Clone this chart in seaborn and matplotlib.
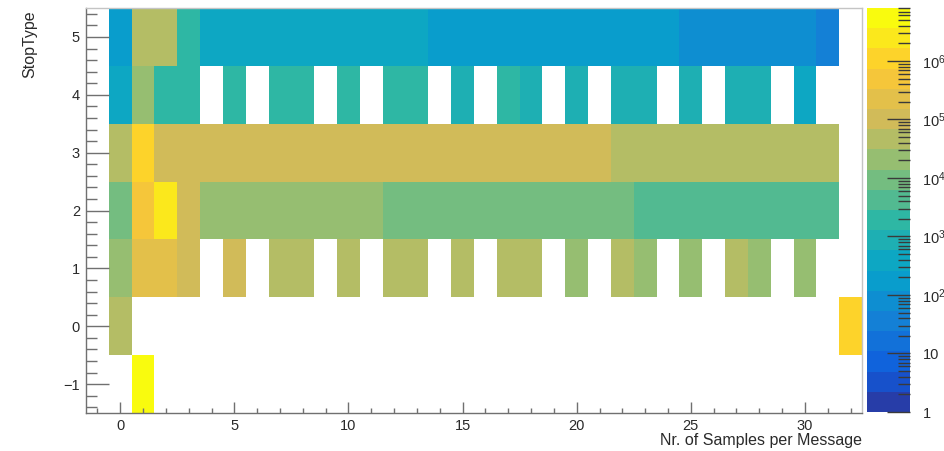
import numpy as np
import pandas as pd
import matplotlib
matplotlib.use("Agg")
import matplotlib.pyplot as plt
import seaborn as sns
from matplotlib.colors import LinearSegmentedColormap, ListedColormap, LogNorm
from matplotlib.ticker import FixedLocator, FixedFormatter, LogLocator, NullFormatter

# ---------------- data (counts per bin, 0 = empty) ----------------
x_bins = list(range(-1, 33))          # Nr. of Samples per Message
stop_types = [5, 4, 3, 2, 1, 0, -1]   # StopType (rows, top to bottom)

counts_5 = [0, 175, 46000, 46000, 1900,
            390, 390, 390, 390, 390, 390, 390, 390, 390, 390,
            175, 175, 175, 175, 175, 175, 175, 175, 175, 175, 175,
            80, 80, 80, 80, 80, 80, 36, 0]
counts_4 = [0, 390, 21000, 1900, 1900, 0, 1900, 0, 1900, 1900, 0, 1900, 0,
            1900, 1900, 0, 860, 0, 1900, 860, 0, 860, 0, 860, 860, 0, 860,
            0, 860, 860, 0, 390, 0, 0]
counts_3 = [0, 46000, 1100000,
            100000, 100000, 100000, 100000, 100000, 100000, 100000, 100000,
            100000, 100000, 100000, 100000, 100000, 100000, 100000, 100000,
            100000, 100000, 100000, 100000,
            46000, 46000, 46000, 46000, 46000, 46000, 46000, 46000, 46000,
            46000, 0]
counts_2 = [0, 9400, 500000, 2400000, 100000,
            21000, 21000, 21000, 21000, 21000, 21000, 21000, 21000,
            9400, 9400, 9400, 9400, 9400, 9400, 9400, 9400, 9400, 9400, 9400,
            4200, 4200, 4200, 4200, 4200, 4200, 4200, 4200, 4200, 0]
counts_1 = [0, 21000, 225000, 225000, 100000, 0, 100000, 0, 46000, 46000, 0,
            46000, 0, 46000, 46000, 0, 46000, 0, 46000, 46000, 0, 21000, 0,
            46000, 21000, 0, 21000, 0, 46000, 21000, 0, 21000, 0, 0]
counts_0 = [0, 46000] + [0] * 31 + [1100000]
counts_m1 = [0, 0, 8050000] + [0] * 31

x_major = [0, 5, 10, 15, 20, 25, 30]
y_major = [-1, 0, 1, 2, 3, 4, 5]
z_major = [1, 10, 100, 1000, 10000, 100000, 1000000]
z_labels = ["1", "10", r"$\mathregular{10^{2}}$", r"$\mathregular{10^{3}}$",
            r"$\mathregular{10^{4}}$", r"$\mathregular{10^{5}}$",
            r"$\mathregular{10^{6}}$"]

df = pd.DataFrame([counts_5, counts_4, counts_3, counts_2, counts_1,
                   counts_0, counts_m1], index=stop_types, columns=x_bins,
                  dtype=float)

# ---------------- style ----------------
sns.set_style("white")
plt.rcParams["font.family"] = ["Liberation Sans", "DejaVu Sans"]
plt.rcParams["axes.axisbelow"] = False
text_c = "#2a2a2a"
axis_c = "#707070"

# ROOT kBird palette, 20 contour levels
r = [0.2082, 0.0592, 0.0780, 0.0232, 0.1802, 0.5301, 0.8186, 0.9956, 0.9764]
g = [0.1664, 0.3599, 0.5041, 0.6419, 0.7178, 0.7492, 0.7328, 0.7862, 0.9832]
b = [0.5293, 0.8684, 0.8385, 0.7914, 0.6425, 0.4662, 0.3499, 0.1968, 0.0539]
stops = np.linspace(0, 1, 9)
bird = LinearSegmentedColormap.from_list("bird", list(zip(stops, zip(r, g, b))), N=255)
n_levels = 20
cmap = ListedColormap([bird(min((k + 0.99) / n_levels, 1.0)) for k in range(n_levels)])
norm = LogNorm(vmin=1, vmax=df.values.max())

fig = plt.figure(figsize=(9.45, 4.51), dpi=100)
W, H = 945, 451
ax = fig.add_axes([86 / W, 1 - 413 / H, (862 - 86) / W, (413 - 8) / H])
cax = fig.add_axes([867 / W, 1 - 412 / H, 43 / W, 404 / H])

sns.heatmap(df, ax=ax, cbar_ax=cax, cmap=cmap, norm=norm, mask=(df == 0),
            xticklabels=False, yticklabels=False, linewidths=0)
ax.set_axisbelow(False)
cax.set_axisbelow(False)

# ---------------- axes: map values to heatmap cell positions ----------------
def xpos(v):
    return np.asarray(v, dtype=float) - x_bins[0] + 0.5

def ypos(v):
    return stop_types[0] - np.asarray(v, dtype=float) + 0.5

ax.xaxis.set_major_locator(FixedLocator(xpos(x_major)))
ax.xaxis.set_major_formatter(FixedFormatter([str(v) for v in x_major]))
ax.xaxis.set_minor_locator(FixedLocator(xpos(x_bins)))
ax.yaxis.set_major_locator(FixedLocator(ypos(y_major)))
ax.yaxis.set_major_formatter(FixedFormatter(
    [str(v).replace("-", "\u2212") for v in y_major]))
y_minor = np.arange(-7, 28) / 5.0
ax.yaxis.set_minor_locator(FixedLocator(ypos(y_minor)))

ax.tick_params(axis="x", which="major", direction="in", length=8, width=1,
               color=axis_c, labelcolor=text_c, labelsize=10.5, pad=4,
               bottom=True, top=False)
ax.tick_params(axis="x", which="minor", direction="in", length=3.3, width=1,
               color=axis_c, bottom=True, top=False)
ax.tick_params(axis="y", which="major", direction="in", length=16.5, width=1,
               color=axis_c, labelcolor=text_c, labelsize=10.5, pad=4.3,
               left=True, right=False)
ax.tick_params(axis="y", which="minor", direction="in", length=8, width=1,
               color=axis_c, left=True, right=False)

for side in ["left", "bottom"]:
    ax.spines[side].set_visible(True)
    ax.spines[side].set_color(axis_c)
    ax.spines[side].set_linewidth(1)
for side in ["top", "right"]:
    ax.spines[side].set_visible(True)
    ax.spines[side].set_color("#c4c4c4")
    ax.spines[side].set_linewidth(1)

ax.set_xlabel("Nr. of Samples per Message", fontsize=11.5, color=text_c,
              ha="right", va="center")
ax.xaxis.set_label_coords(1.0, -(440 - 413) / 405)
ax.set_ylabel("StopType", fontsize=11.5, color=text_c, ha="right", va="center")
ax.yaxis.set_label_coords(-(86 - 30) / 776, (413 - 10) / 405)

# ---------------- colorbar ----------------
cbar = ax.collections[0].colorbar
cbar.outline.set_visible(False)
cax.yaxis.set_major_locator(FixedLocator(z_major))
cax.yaxis.set_major_formatter(FixedFormatter(z_labels))
cax.yaxis.set_minor_locator(LogLocator(base=10, subs=np.arange(2, 10)))
cax.yaxis.set_minor_formatter(NullFormatter())
cax.tick_params(which="major", direction="in", length=16.5, width=1,
                color="#3a3a3a", labelcolor=text_c, labelsize=10.5, pad=9,
                right=True, left=False)
cax.tick_params(which="minor", direction="in", length=8.5, width=1,
                color="#3a3a3a", right=True, left=False)

fig.savefig("out.png", dpi=100)
